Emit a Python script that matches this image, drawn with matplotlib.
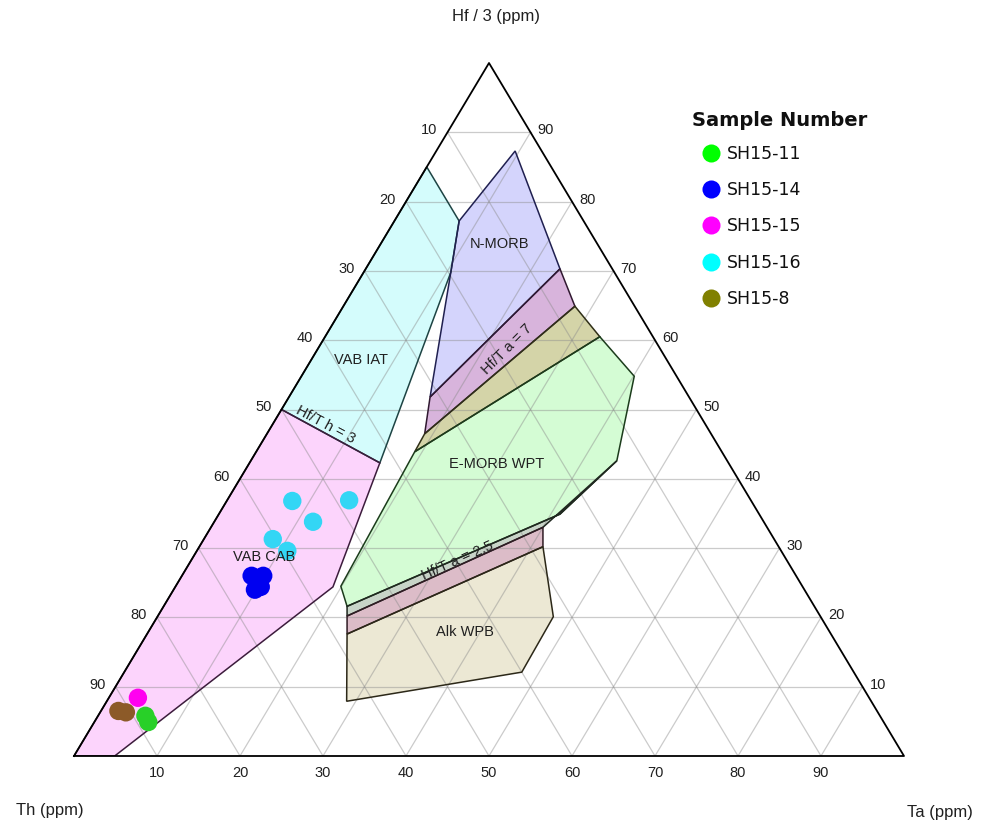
import numpy as np
import matplotlib
matplotlib.use("Agg")
import matplotlib.pyplot as plt
from matplotlib.patches import Polygon
from matplotlib.lines import Line2D

## Field outlines as (Th, Hf/3, Ta) in percent
vab_iat = [(15.0, 85.0, 0.0), (15.0, 77.2, 7.8), (19.7, 69.8, 10.5), (42.0, 42.3, 15.7), (50.0, 50.0, 0.0)]
vab_cab = [(50.0, 50.0, 0.0), (42.0, 42.3, 15.7), (56.6, 24.4, 19.0), (95.1, 0.0, 4.9), (100.0, 0.0, 0.0)]
n_morb = [(3.2, 87.3, 9.5), (15.0, 77.2, 7.8), (19.7, 69.8, 10.5), (31.2, 51.8, 17.0), (6.3, 70.3, 23.4)]
hfta7_upper = [(31.2, 51.8, 17.0), (6.3, 70.3, 23.4), (7.2, 64.9, 27.9), (34.5, 46.5, 19.0)]
hfta7_lower = [(34.5, 46.5, 19.0), (7.2, 64.9, 27.9), (6.4, 60.5, 33.1), (37.0, 43.9, 19.1)]
emorb_wpt = [(37.0, 43.9, 19.1), (6.4, 60.5, 33.1), (5.1, 54.8, 40.1), (13.3, 42.6, 44.1),
             (24.0, 34.9, 41.1), (56.3, 21.6, 22.1), (55.6, 24.5, 19.9)]
hfta25_upper = [(56.3, 21.6, 22.1), (24.0, 34.9, 41.1), (13.3, 42.6, 44.1), (27.0, 33.0, 40.0), (57.0, 20.2, 22.8)]
hfta25_lower = [(57.0, 20.2, 22.8), (27.0, 33.0, 40.0), (28.4, 30.2, 41.4), (58.3, 17.6, 24.1)]
alk_wpb = [(58.3, 17.6, 24.1), (28.4, 30.2, 41.4), (32.2, 20.1, 47.7), (40.0, 12.1, 47.9), (63.2, 7.9, 28.9)]

## Samples: Th, Hf/3, Ta (percent)
sh15_8_th = [91.4, 90.6]
sh15_8_hf = [6.5, 6.3]
sh15_8_ta = [2.1, 3.1]

sh15_15_th = [88.1]
sh15_15_hf = [8.4]
sh15_15_ta = [3.5]

sh15_11_th = [88.5, 88.6]
sh15_11_hf = [5.8, 4.9]
sh15_11_ta = [5.7, 6.5]

sh15_14_th = [65.6, 64.2, 66.2, 65.3]
sh15_14_hf = [26.0, 26.0, 24.0, 24.4]
sh15_14_ta = [8.4, 9.8, 9.8, 10.3]

sh15_16_th = [55.3, 48.4, 54.3, 60.4, 59.5]
sh15_16_hf = [36.8, 36.9, 33.8, 31.3, 29.6]
sh15_16_ta = [7.9, 14.7, 11.9, 8.3, 10.9]

sample_names = ["SH15-11", "SH15-14", "SH15-15", "SH15-16", "SH15-8"]
legend_colors = ["#00ff00", "#0000ff", "#ff00ff", "#00ffff", "#808000"]
ticks = [10, 20, 30, 40, 50, 60, 70, 80, 90]


def tern(th, hf, ta):
    th = np.asarray(th, dtype=float)
    hf = np.asarray(hf, dtype=float)
    ta = np.asarray(ta, dtype=float)
    s = th + hf + ta
    return (ta + hf / 2.0) / s, hf / s


W, H = 984, 828
fig = plt.figure(figsize=(W / 100, H / 100), dpi=100)
ax = fig.add_axes([74 / W, (H - 757) / H, 830 / W, 693 / H])
ax.set_xlim(0, 1)
ax.set_ylim(0, 1)
ax.axis("off")

## fields (fill first, grid on top, then outlines)
fields = [
    (vab_iat, "#d4fcfc", "#1e4444"),
    (vab_cab, "#fcd4fc", "#3c1c3c"),
    (n_morb, "#d4d4fc", "#202050"),
    (hfta7_upper, "#d8b4dc", "#301830"),
    (hfta7_lower, "#d4d4a8", "#303018"),
    (emorb_wpt, "#d4fcd4", "#1c3c1c"),
    (hfta25_upper, "#c8d4c8", "#202820"),
    (hfta25_lower, "#dcbcc8", "#301c24"),
    (alk_wpb, "#ece8d4", "#2c2818"),
]
for pts, fc, ec in fields:
    p = np.array(pts)
    x, y = tern(p[:, 0], p[:, 1], p[:, 2])
    xy = np.column_stack([x, y])
    ax.add_patch(Polygon(xy, closed=True, facecolor=fc, edgecolor="none", zorder=1))
    ax.add_patch(Polygon(xy, closed=True, facecolor="none", edgecolor=ec, lw=1.1, zorder=3))

## grid lines
gc = (0.55, 0.55, 0.55, 0.45)
for t in ticks:
    f = t / 100.0
    # constant Hf/3
    x, y = tern([1 - f, 0], [f, f], [0, 1 - f])
    ax.plot(x, y, color=gc, lw=0.9, zorder=2)
    # constant Ta
    x, y = tern([1 - f, 0], [0, 1 - f], [f, f])
    ax.plot(x, y, color=gc, lw=0.9, zorder=2)
    # constant Th
    x, y = tern([f, f], [1 - f, 0], [0, 1 - f])
    ax.plot(x, y, color=gc, lw=0.9, zorder=2)

## triangle frame
x, y = tern([100, 0, 0, 100], [0, 100, 0, 0], [0, 0, 100, 0])
ax.plot(x, y, color="black", lw=1.3, zorder=3, clip_on=False)

## samples
ms = 175
x, y = tern(sh15_8_th, sh15_8_hf, sh15_8_ta)
ax.scatter(x, y, s=ms, color="#8c5a28", edgecolors="none", zorder=4, clip_on=False)
x, y = tern(sh15_15_th, sh15_15_hf, sh15_15_ta)
ax.scatter(x, y, s=ms, color="#ff00f0", edgecolors="none", zorder=4, clip_on=False)
x, y = tern(sh15_11_th, sh15_11_hf, sh15_11_ta)
ax.scatter(x, y, s=ms, color="#28d028", edgecolors="none", zorder=4, clip_on=False)
x, y = tern(sh15_14_th, sh15_14_hf, sh15_14_ta)
ax.scatter(x, y, s=ms, color="#0000f0", edgecolors="none", zorder=4, clip_on=False)
x, y = tern(sh15_16_th, sh15_16_hf, sh15_16_ta)
ax.scatter(x, y, s=ms, color="#33d6f5", edgecolors="none", zorder=4, clip_on=False)

## field names
lab = dict(fontsize=10.5, family="Liberation Sans", ha="center", va="center", zorder=5, color="#202020")
for name, th, hf, ta, rot in [
    ("N-MORB", 11.7, 74.0, 14.3, 0),
    ("VAB IAT", 36.8, 57.3, 5.9, 0),
    ("Hf/T h = 3", 45.8, 47.9, 6.3, -28),
    ("Hf/T a = 7", 18.4, 58.9, 22.7, 45),
    ("E-MORB WPT", 27.9, 42.3, 29.8, 0),
    ("Hf/T a = 2.5", 39.6, 28.4, 32.0, 24),
    ("Alk WPB", 43.9, 18.0, 38.1, 0),
    ("VAB CAB", 62.7, 28.9, 8.4, 0),
]:
    x, y = tern(th, hf, ta)
    ax.text(x, y, name, rotation=rot, rotation_mode="anchor", **lab)

## tick labels
tk = dict(fontsize=10.5, family="Liberation Sans", color="#202020")
for t in ticks:
    f = t / 100.0
    # left side: Th
    x, y = tern(1 - f, f, 0)
    ax.annotate(str(int(round((1 - f) * 100))), (x, y), xytext=(-10, 3), textcoords="offset pixels",
                ha="right", va="center", annotation_clip=False, **tk)
    # right side: Hf/3
    x, y = tern(0, f, 1 - f)
    ax.annotate(str(t), (x, y), xytext=(7, 3), textcoords="offset pixels",
                ha="left", va="center", annotation_clip=False, **tk)
    # bottom: Ta
    x, y = tern(1 - f, 0, f)
    ax.annotate(str(t), (x, y), xytext=(0, -16), textcoords="offset pixels",
                ha="center", va="center", annotation_clip=False, **tk)

## axis titles
at = dict(fontsize=12, family="Liberation Sans", color="#202020", ha="center", va="center")
fig.text(496 / W, 1 - 17 / H, "Hf / 3 (ppm)", **at)
fig.text(50 / W, 1 - 811 / H, "Th (ppm)", **at)
fig.text(940 / W, 1 - 813 / H, "Ta (ppm)", **at)

## legend
fig.text(692 / W, 1 - 121 / H, "Sample Number", fontsize=14, fontweight="bold",
         family="DejaVu Sans", color="#101010", ha="left", va="center")
for i, (name, c) in enumerate(zip(sample_names, legend_colors)):
    yy = 1 - (154 + i * 36.2) / H
    fig.add_artist(Line2D([711 / W], [yy], marker="o", markersize=13, color=c,
                          markeredgecolor="none", linestyle="none", transform=fig.transFigure))
    fig.text(727 / W, yy, name, fontsize=12.5, family="DejaVu Sans", color="#101010",
             ha="left", va="center")

fig.savefig("out.png", dpi=100, facecolor="white")
